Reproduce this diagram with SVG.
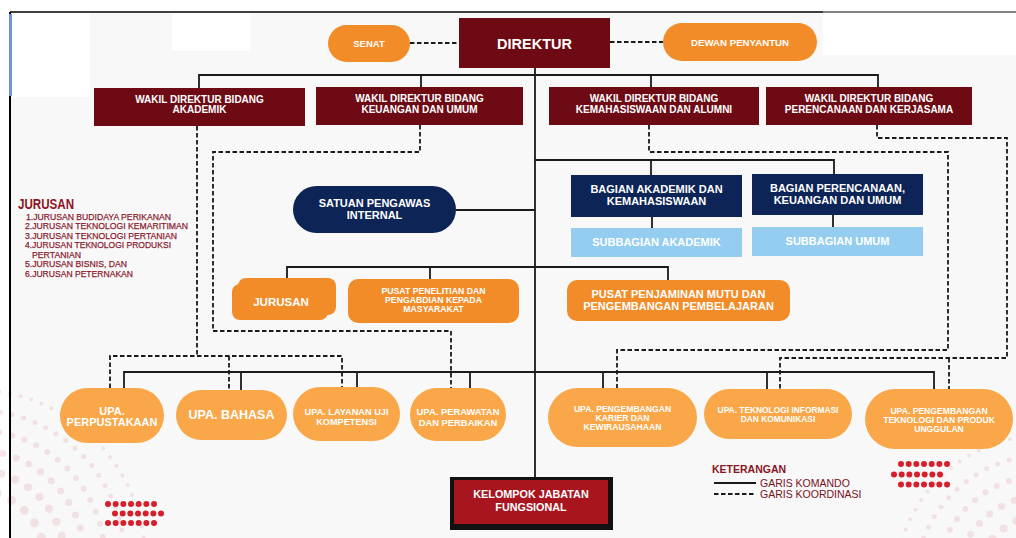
<svg xmlns="http://www.w3.org/2000/svg" width="1016" height="538" viewBox="0 0 1016 538">
<style>
.cmd{stroke:#1a1a1a;stroke-width:1.8;fill:none}
.crd{stroke:#1a1a1a;stroke-width:1.8;fill:none;stroke-dasharray:4.5 2.5}
.t{font-family:"Liberation Sans",Arial,sans-serif;font-weight:bold;fill:#ffffff;text-anchor:middle}
.maroon{fill:#6e0a14}
.org{fill:#f28c28}
.upa{fill:#f9a748}
.navy{fill:#0d2456}
.lb{fill:#94cdf0}
.lst{font-family:"Liberation Sans",Arial,sans-serif;font-size:9.5px;fill:#8b1a2e;stroke:#8b1a2e;stroke-width:0.25}
.dots{stroke:#d61f2c;stroke-width:6;stroke-linecap:round;stroke-dasharray:0 7.67;fill:none}
.ring{fill:none;stroke:#e8b7bd;stroke-linecap:round}
</style>
<rect width="1016" height="538" fill="#ffffff"/>
<rect x="10" y="13" width="1006" height="525" fill="#f8f8f8"/>
<g id="decor">
<g opacity="0.35">
<circle class="ring" cx="-25" cy="560" r="70" stroke-width="9" stroke-dasharray="0 16"/>
<circle class="ring" cx="-25" cy="560" r="90" stroke-width="8" stroke-dasharray="0 15"/>
<circle class="ring" cx="-25" cy="560" r="110" stroke-width="7" stroke-dasharray="0 14"/>
<circle class="ring" cx="-25" cy="560" r="130" stroke-width="6" stroke-dasharray="0 13"/>
<circle class="ring" cx="-25" cy="560" r="150" stroke-width="5" stroke-dasharray="0 12"/>
<circle class="ring" cx="-25" cy="560" r="170" stroke-width="4" stroke-dasharray="0 11"/>
<circle class="ring" cx="1045" cy="585" r="70" stroke-width="8" stroke-dasharray="0 15"/>
<circle class="ring" cx="1045" cy="585" r="90" stroke-width="7" stroke-dasharray="0 14"/>
<circle class="ring" cx="1045" cy="585" r="110" stroke-width="6" stroke-dasharray="0 13"/>
<circle class="ring" cx="1045" cy="585" r="130" stroke-width="5" stroke-dasharray="0 12"/>
<circle class="ring" cx="1045" cy="585" r="150" stroke-width="4" stroke-dasharray="0 11"/>
</g>
<rect x="12" y="13" width="78" height="84" fill="#ffffff"/>
<rect x="172" y="13" width="79" height="38" fill="#ffffff"/>
<rect x="823" y="13" width="193" height="42" fill="#ffffff"/>
<line x1="10" y1="12" x2="1016" y2="12" stroke="#000" stroke-width="1.6"/>
<line x1="823" y1="12" x2="1016" y2="12" stroke="#999" stroke-width="1.6"/>
<line x1="10" y1="12" x2="10" y2="538" stroke="#000" stroke-width="2"/>
<line x1="10.5" y1="14" x2="10.5" y2="96" stroke="#6f93d2" stroke-width="3"/>
<path class="dots" d="M108,504 H155 M115,513.5 H162 M108,523 H155"/>
<path class="dots" d="M901,464 H948 M894,474.5 H941 M901,484.5 H948"/>
</g>
<g id="connectors">
<path class="cmd" d="M199,88 V75 H878 V87 M421,75 V87 M651,75 V87 M535,68 V478"/>
<path class="cmd" d="M535,160 H834 V174 M651,160 V175 M652,217 V228 M833,215 V227 M456,210 H535"/>
<path class="cmd" d="M287,279 V267 H668 V280 M430,267 V279"/>
<path class="cmd" d="M124,388 V372 H934 V389 M241,372 V390 M357,372 V387 M470,372 V388 M603,372 V388 M767,372 V389"/>
<path class="crd" d="M410,43 H459 M610,42 H663"/>
<path class="crd" d="M197,126 V356 M110,388 V356 H342 V387 M229,356 V390"/>
<path class="crd" d="M420,125 V152 H213 V331 H451 V388"/>
<path class="crd" d="M649,125 V152 H948 V350 H617 V388"/>
<path class="crd" d="M877,125 V138 H1007 V358 H780 V389 M949,358 V389"/>
</g>
<g id="senat"><rect class="org" x="328" y="25" width="82" height="37" rx="18.5"/><text class="t" x="369" y="47" font-size="9.5">SENAT</text></g>
<g id="direktur"><rect class="maroon" x="459" y="18" width="151" height="50"/><text class="t" x="534.5" y="48.5" font-size="14.5">DIREKTUR</text></g>
<g id="dewan"><rect class="org" x="663" y="23" width="154" height="38" rx="19"/><text class="t" x="740" y="45.5" font-size="9.7">DEWAN PENYANTUN</text></g>
<g id="wadir-akademik"><rect class="maroon" x="94" y="88" width="211" height="38"/><text class="t" x="199.5" y="102.5" font-size="10">WAKIL DIREKTUR BIDANG</text><text class="t" x="199.5" y="113" font-size="10">AKADEMIK</text></g>
<g id="wadir-keuangan"><rect class="maroon" x="316" y="87" width="207" height="38"/><text class="t" x="419.5" y="102" font-size="10">WAKIL DIREKTUR BIDANG</text><text class="t" x="419.5" y="112.5" font-size="10">KEUANGAN DAN UMUM</text></g>
<g id="wadir-kemahasiswaan"><rect class="maroon" x="549" y="87" width="210" height="38"/><text class="t" x="654" y="102" font-size="10">WAKIL DIREKTUR BIDANG</text><text class="t" x="654" y="112.5" font-size="10">KEMAHASISWAAN DAN ALUMNI</text></g>
<g id="wadir-perencanaan"><rect class="maroon" x="766" y="87" width="206" height="38"/><text class="t" x="869" y="102" font-size="10">WAKIL DIREKTUR BIDANG</text><text class="t" x="869" y="112.5" font-size="10">PERENCANAAN DAN KERJASAMA</text></g>
<g id="spi"><rect class="navy" x="293" y="186" width="163" height="47" rx="23.5"/><text class="t" x="374.5" y="207" font-size="11">SATUAN PENGAWAS</text><text class="t" x="374.5" y="219" font-size="11">INTERNAL</text></g>
<g id="bagian-akademik"><rect class="navy" x="571" y="175" width="171" height="42"/><text class="t" x="656.5" y="193" font-size="11">BAGIAN AKADEMIK DAN</text><text class="t" x="656.5" y="205" font-size="11">KEMAHASISWAAN</text></g>
<g id="bagian-perencanaan"><rect class="navy" x="752" y="174" width="171" height="41"/><text class="t" x="837.5" y="192" font-size="11">BAGIAN PERENCANAAN,</text><text class="t" x="837.5" y="204" font-size="11">KEUANGAN DAN UMUM</text></g>
<g id="subbagian-akademik"><rect class="lb" x="571" y="228" width="171" height="29"/><text class="t" x="656.5" y="246" font-size="11">SUBBAGIAN AKADEMIK</text></g>
<g id="subbagian-umum"><rect class="lb" x="752" y="227" width="171" height="29"/><text class="t" x="837.5" y="245" font-size="11">SUBBAGIAN UMUM</text></g>
<g id="jurusan"><rect class="org" x="232" y="284" width="96" height="36" rx="8"/><rect class="org" x="238" y="278" width="98" height="37" rx="8"/><text class="t" x="281" y="306" font-size="11.5">JURUSAN</text></g>
<g id="p3m"><rect class="org" x="348" y="279" width="171" height="44" rx="10"/><text class="t" x="433.5" y="294" font-size="8.7">PUSAT PENELITIAN DAN</text><text class="t" x="433.5" y="303" font-size="8.7">PENGABDIAN KEPADA</text><text class="t" x="433.5" y="312" font-size="8.7">MASYARAKAT</text></g>
<g id="p4mp"><rect class="org" x="567" y="280" width="223" height="41" rx="10"/><text class="t" x="678.5" y="298" font-size="11">PUSAT PENJAMINAN MUTU DAN</text><text class="t" x="678.5" y="310" font-size="11">PENGEMBANGAN PEMBELAJARAN</text></g>
<g id="upa-perpustakaan"><rect class="upa" x="60" y="388" width="104" height="55" rx="27.5"/><text class="t" x="112" y="415" font-size="11">UPA.</text><text class="t" x="112" y="426" font-size="11">PERPUSTAKAAN</text></g>
<g id="upa-bahasa"><rect class="upa" x="176" y="390" width="111" height="50" rx="25"/><text class="t" x="231.5" y="418.5" font-size="12.5">UPA. BAHASA</text></g>
<g id="upa-layanan"><rect class="upa" x="293" y="387" width="107" height="54" rx="27"/><text class="t" x="346.5" y="414.5" font-size="9.2">UPA. LAYANAN UJI</text><text class="t" x="346.5" y="424.5" font-size="9.2">KOMPETENSI</text></g>
<g id="upa-perawatan"><rect class="upa" x="410" y="388" width="96" height="53" rx="26.5"/><text class="t" x="458" y="414.5" font-size="9.4">UPA. PERAWATAN</text><text class="t" x="458" y="425.5" font-size="9.4">DAN PERBAIKAN</text></g>
<g id="upa-karier"><rect class="upa" x="548" y="388" width="149" height="59" rx="29.5"/><text class="t" x="622.5" y="412" font-size="8.6">UPA. PENGEMBANGAN</text><text class="t" x="622.5" y="421" font-size="8.6">KARIER DAN</text><text class="t" x="622.5" y="430" font-size="8.6">KEWIRAUSAHAAN</text></g>
<g id="upa-tik"><rect class="upa" x="704" y="389" width="148" height="50" rx="25"/><text class="t" x="778" y="412.5" font-size="8.4">UPA. TEKNOLOGI INFORMASI</text><text class="t" x="778" y="421.5" font-size="8.4">DAN KOMUNIKASI</text></g>
<g id="upa-teknologi"><rect class="upa" x="865" y="389" width="148" height="60" rx="30"/><text class="t" x="939" y="414" font-size="8.6">UPA. PENGEMBANGAN</text><text class="t" x="939" y="423" font-size="8.6">TEKNOLOGI DAN PRODUK</text><text class="t" x="939" y="432" font-size="8.6">UNGGULAN</text></g>
<g id="kjf"><rect x="450" y="477" width="163" height="53" fill="#111111"/><rect x="454" y="480" width="154" height="44" fill="#a8151f"/><text class="t" x="531" y="498" font-size="10.8">KELOMPOK JABATAN</text><text class="t" x="531" y="511" font-size="10.8">FUNGSIONAL</text></g>
<g id="jurusan-list">
<text x="18" y="209" font-family="Liberation Sans,Arial,sans-serif" font-weight="bold" font-size="14" fill="#8b1424" textLength="56" lengthAdjust="spacingAndGlyphs">JURUSAN</text>
<text class="lst" x="26" y="219.5" textLength="145" lengthAdjust="spacingAndGlyphs">1.JURUSAN BUDIDAYA PERIKANAN</text>
<text class="lst" x="25" y="229" textLength="163" lengthAdjust="spacingAndGlyphs">2.JURUSAN TEKNOLOGI KEMARITIMAN</text>
<text class="lst" x="25" y="238.5" textLength="152" lengthAdjust="spacingAndGlyphs">3.JURUSAN TEKNOLOGI PERTANIAN</text>
<text class="lst" x="25" y="248" textLength="146" lengthAdjust="spacingAndGlyphs">4.JURUSAN TEKNOLOGI PRODUKSI</text>
<text class="lst" x="32" y="257.5" textLength="49" lengthAdjust="spacingAndGlyphs">PERTANIAN</text>
<text class="lst" x="25" y="267" textLength="102" lengthAdjust="spacingAndGlyphs">5.JURUSAN BISNIS, DAN</text>
<text class="lst" x="25" y="276.5" textLength="108" lengthAdjust="spacingAndGlyphs">6.JURUSAN PETERNAKAN</text>
</g>
<g id="legend">
<text x="712" y="473" font-family="Liberation Sans,Arial,sans-serif" font-weight="bold" font-size="10.5" fill="#8b1424">KETERANGAN</text>
<line class="cmd" x1="714" y1="483" x2="756" y2="483"/>
<line class="crd" x1="714" y1="494" x2="756" y2="494"/>
<text x="760" y="487" font-family="Liberation Sans,Arial,sans-serif" font-size="10.5" fill="#7a1020">GARIS KOMANDO</text>
<text x="760" y="498" font-family="Liberation Sans,Arial,sans-serif" font-size="10.5" fill="#7a1020">GARIS KOORDINASI</text>
</g>
</svg>
